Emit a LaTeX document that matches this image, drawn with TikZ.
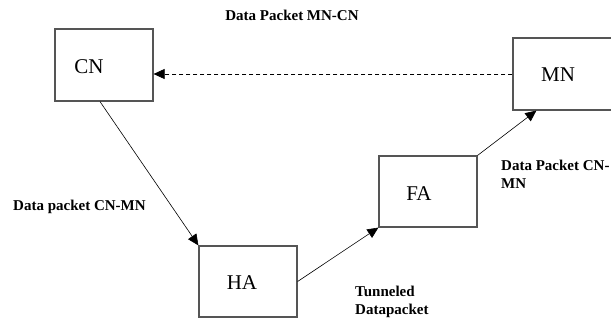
\documentclass[tikz,border=0pt]{standalone}
\usepackage{fontspec}
\setmainfont{Liberation Serif}
\usepackage{tikz}
\usetikzlibrary{arrows.meta,positioning,calc}
\definecolor{BoxGray}{HTML}{555555}

\begin{document}
\begin{tikzpicture}[x=1pt,y=-1pt,every node/.style={font=\fontsize{15}{18}\selectfont\bfseries},
    agent/.style={draw=BoxGray,line width=1.2pt,minimum width=98pt,minimum height=72pt,inner sep=0pt},
    agentname/.style={font=\fontsize{21}{24}\selectfont,inner sep=0pt},
    flow/.style={line width=0.6pt,-{Triangle[length=11pt,width=10pt]}},
    tag/.style={align=left,inner sep=0pt,anchor=west}]
      \useasboundingbox (0,0) rectangle (611,320);

      \node[agent] (cn) at (104,65) {};
      \node[agentname] (cnname) at (89,67) {CN};

      \node[agent,minimum width=140pt] (mn) at (583,74) {};
      \node[agentname] (mnname) at (558,75) {MN};

      \node[agent,minimum height=71pt] (ha) at (248,281.5) {};
      \node[agentname] (haname) at (242,283) {HA};

      \node[agent,minimum height=71pt] (fa) at (428,191.5) {};
      \node[agentname] (faname) at (419,194) {FA};

      \draw[flow,dash pattern=on 4pt off 3pt] (mn.west) -- (mn.west -| cn.east);
      \draw[flow] ($(cn.south)+(-4,0)$) -- (ha.north west);
      \draw[flow] (ha.east) -- (fa.south west);
      \draw[flow] (fa.north east) -- ($(mn.south west)+(24,0)$);

      \node[inner sep=0pt] (mncn) at (292,15) {Data Packet MN-CN};
      \node[tag] (cnmn) at (13,207) {Data packet CN-MN};
      \node[tag] (cnmnfa) at (501,174) {Data Packet CN-\\MN};
      \node[tag] (tunnel) at (355,302) {Tunneled\\Datapacket};
    \end{tikzpicture}
\end{document}
